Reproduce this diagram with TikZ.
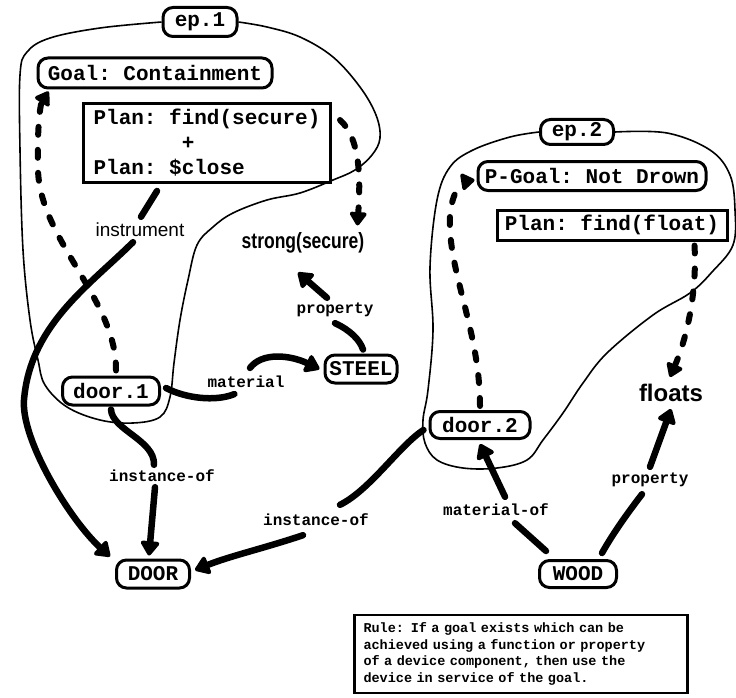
\documentclass[tikz,border=0pt]{standalone}
\usepackage{fontspec}
\setmonofont{Liberation Mono}
\newfontfamily\mysansf{Liberation Sans}
\usetikzlibrary{arrows.meta,calc}
\newcommand\myboxfont{\ttfamily\bfseries\fontsize{21}{25}\selectfont}
\newcommand\mylabfont{\ttfamily\bfseries\fontsize{16}{19}\selectfont}
\newcommand\myrulefont{\ttfamily\bfseries\fontsize{13.5}{16.5}\selectfont}
\begin{document}
\begin{tikzpicture}[x=1pt,y=-1pt,
  rbox/.style={draw, line width=3pt, rounded corners=10pt, inner sep=0pt, font=\myboxfont},
  sbox/.style={draw, line width=3pt, inner sep=0pt, font=\myboxfont},
  lab/.style={font=\mylabfont, inner sep=1pt},
  thickline/.style={line width=6.5pt, line cap=round},
  solidedge/.style={thickline, -{Triangle[length=16pt,width=21pt,round]}},
  dashedge/.style={line width=6pt, line cap=round, dash pattern=on 8pt off 15pt, -{Triangle[length=15pt,width=19pt,round]}},
  blob/.style={line width=1.6pt, line join=round}]
\useasboundingbox (0,0) rectangle (736,698);

% nodes
\node[rbox, minimum width=74pt, minimum height=29pt] (ep1) at (200,22) {ep.1};
\node[rbox, minimum width=234pt, minimum height=30pt] (goal) at (155,73) {Goal: Containment};
\node[sbox, minimum width=247pt, minimum height=79pt, align=left] (plan1) at (207,143)
  {Plan: find(secure)\\\hphantom{1234567}+\\Plan: \$close};
\node[font=\mysansf\fontsize{19}{22}\selectfont, inner sep=1pt] (instr) at (140,230) {instrument};
\node[font=\mysansf\bfseries\fontsize{17}{20}\selectfont, inner sep=1pt] (strong) at (303,243) {\scalebox{1.03}[1.3]{strong(secure)}};
\node[lab] (prop1) at (335,310) {property};
\node[rbox, minimum width=72pt, minimum height=28pt] (steel) at (361,369) {STEEL};
\node[lab] (mat) at (246,382) {material};
\node[rbox, minimum width=97pt, minimum height=28pt] (door1) at (111,391) {door.1};
\node[lab] (inst1) at (162,476) {instance-of};
\node[rbox, minimum width=73pt, minimum height=28pt] (DOOR) at (153,574) {DOOR};
\node[lab] (inst2) at (316,520) {instance-of};

\node[rbox, minimum width=73pt, minimum height=25pt] (ep2) at (577,132) {ep.2};
\node[rbox, minimum width=228pt, minimum height=29pt] (pgoal) at (592,176) {P-Goal: Not Drown};
\node[sbox, minimum width=230pt, minimum height=30pt] (float) at (612,225) {Plan: find(float)};
\node[font=\mysansf\bfseries\fontsize{24}{28}\selectfont, inner sep=1pt] (floats) at (671,393) {floats};
\node[rbox, minimum width=100pt, minimum height=27pt] (door2) at (480,425) {door.2};
\node[lab] (matof) at (496,510) {material-of};
\node[lab] (prop2) at (650,480) {property};
\node[rbox, minimum width=77pt, minimum height=27pt] (wood) at (578,574) {WOOD};

\node[draw, line width=2.5pt, inner xsep=9pt, inner ysep=6pt, text width=315pt, align=left,
  minimum height=78pt, font=\myrulefont] (rule) at (521,654)
  {Rule: If a goal exists which can be\\achieved using a function or property\\of a device component, then use the\\device in service of the goal.};

% episode outlines
\draw[blob] plot[smooth, tension=0.6] coordinates {(ep1.west) (100,28) (50,38) (27,52) (20,75) (20,150) (23,250) (30,320) (38,360) (45,385) (67,407) (100,420) (133,423) (160,417) (170,397) (174,363) (180,320) (188,280) (197,245) (213,227) (233,213) (267,200) (300,193) (333,180) (355,170) (372,155) (380,138) (376,115) (360,87) (333,57) (300,37) (267,27) (ep1.east)};
\draw[blob] plot[smooth, tension=0.6] coordinates {(ep2.west) (510,137) (473,150) (450,167) (437,200) (430,267) (433,330) (428,390) (423,420) (425,443) (437,460) (463,468) (497,468) (527,460) (543,440) (563,413) (583,383) (607,353) (653,315) (690,293) (712,272) (733,245) (735,210) (730,175) (710,150) (667,133) (ep2.east)};

% dashed (goal / plan) connectors
\draw[dashedge] ($(door1.north)+(5,-5)$) .. controls (117,300) and (40,240) .. (38,170) .. controls (37,130) and (40,105) .. ($(goal.south west)+(12,2)$);
\draw[dashedge] ($(plan1.north east)+(8,18)$) .. controls (362,140) and (360,185) .. ($(strong.north east)+(-8,-6)$);
\draw[dashedge] ($(door2.north)+(0,-4)$) .. controls (480,330) and (447,270) .. (450,215) .. controls (452,192) and (462,182) .. ($(pgoal.west)+(-2,4)$);
\draw[dashedge] ($(float.south east)+(-34,4)$) .. controls (697,290) and (688,335) .. ($(floats.north)+(-1,-6)$);

% instrument
\draw[thickline] ($(plan1.south)+(-50,7)$) -- ($(instr.north)+(1,-5)$);
\draw[solidedge] ($(instr.south)+(-7,4)$) .. controls (90,285) and (30,325) .. (24,400) .. controls (21,440) and (70,520) .. ($(DOOR.north west)+(-5,-2)$);

% instance-of (door.1)
\draw[thickline] ($(door1.south)+(0,3)$) .. controls (112,430) and (155,440) .. ($(inst1.north)+(-8,-4)$);
\draw[solidedge] ($(inst1.south)+(-7,4)$) -- ($(DOOR.north)+(-4,-3)$);

% material
\draw[thickline] ($(door1.east)+(5,-3)$) .. controls (185,398) and (215,402) .. ($(mat.south west)+(28,5)$);
\draw[solidedge] ($(mat.north)+(4,-7)$) .. controls (262,352) and (290,355) .. ($(steel.west)+(-4,0)$);

% property (steel)
\draw[thickline] ($(steel.north)+(2,-4)$) .. controls (360,340) and (350,330) .. ($(prop1.south)+(0,5)$);
\draw[solidedge] ($(prop1.north)+(-8,-4)$) -- ($(strong.south)+(-5,18)$);

% instance-of (door.2)
\draw[thickline] ($(door2.west)+(-5,5)$) .. controls (400,445) and (370,490) .. ($(inst2.north east)+(-30,-8)$);
\draw[solidedge] ($(inst2.south)+(-13,8)$) .. controls (265,548) and (230,556) .. ($(DOOR.east)+(4,-4)$);

% material-of
\draw[thickline] ($(wood.north west)+(8,-8)$) -- ($(matof.south east)+(-35,6)$);
\draw[solidedge] ($(matof.north east)+(-45,-6)$) -- ($(door2.south)+(0,4)$);

% property (wood)
\draw[thickline] ($(wood.north east)+(-16,-6)$) .. controls (615,530) and (630,510) .. ($(prop2.south)+(-8,6)$);
\draw[solidedge] ($(prop2.north)+(0,-5)$) -- ($(floats.south)+(0,6)$);
\end{tikzpicture}
\end{document}
